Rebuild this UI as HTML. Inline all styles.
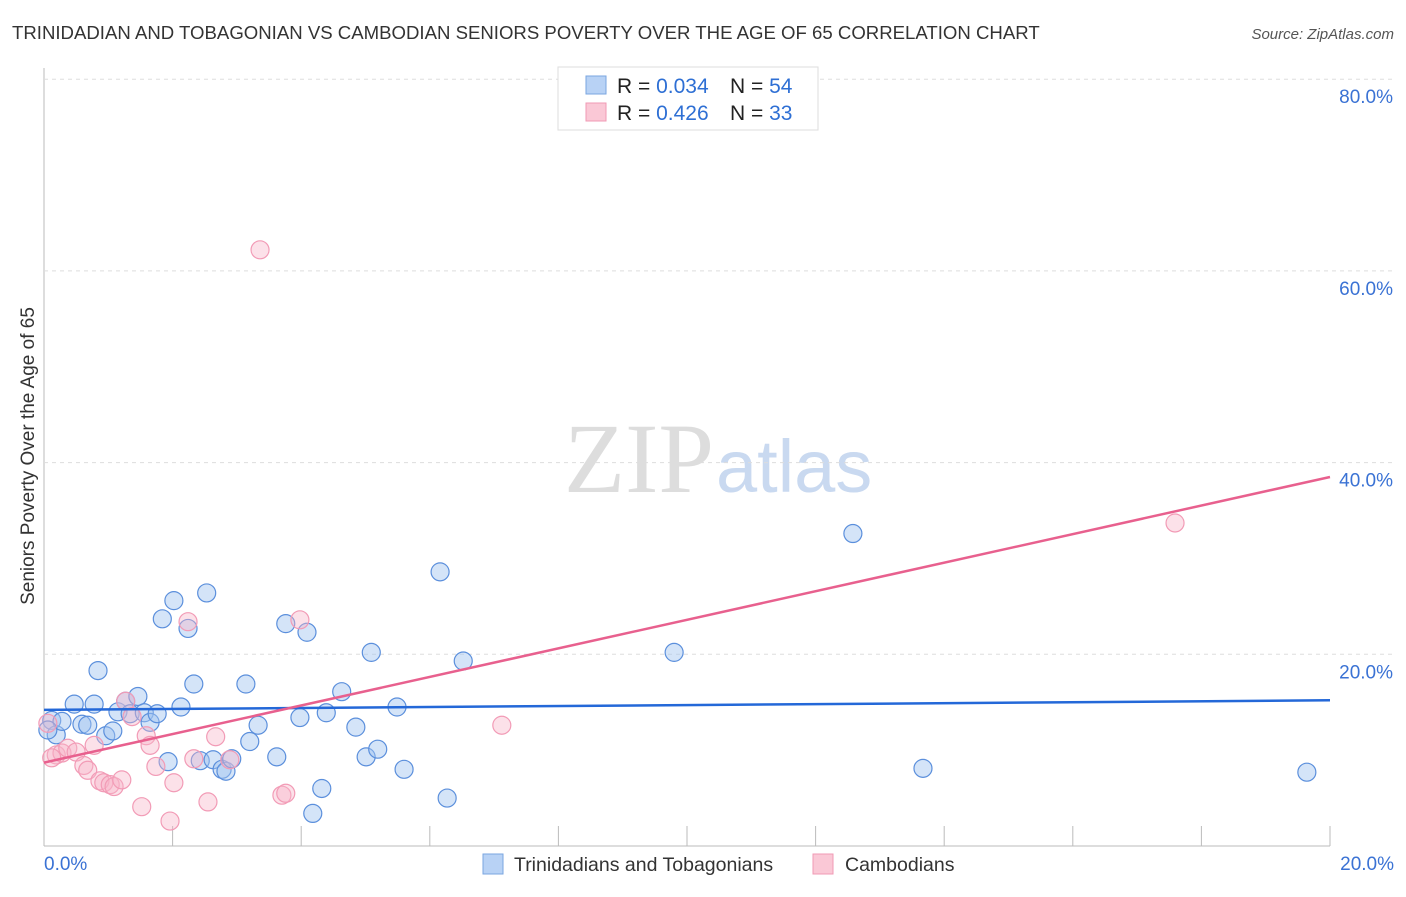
<!DOCTYPE html>
<html><head><meta charset="utf-8"><style>
body{margin:0;background:#fff;font-family:"Liberation Sans",sans-serif}
svg text{font-family:"Liberation Sans",sans-serif}
</style></head><body>
<svg id="c" width="1406" height="892" xmlns="http://www.w3.org/2000/svg">
<text x="12" y="39" font-size="18.6" fill="#333">TRINIDADIAN AND TOBAGONIAN VS CAMBODIAN SENIORS POVERTY OVER THE AGE OF 65 CORRELATION CHART</text>
<text x="1394" y="39" font-size="15" fill="#555" font-style="italic" text-anchor="end">Source: ZipAtlas.com</text>
<text x="714" y="492" font-size="100" fill="#ddd" text-anchor="end" style="font-family:'Liberation Serif',serif">ZIP</text>
<text x="716" y="492" font-size="74" fill="#c9d9f0">atlas</text>
<text transform="translate(34,456) rotate(-90)" font-size="19" fill="#333" text-anchor="middle">Seniors Poverty Over the Age of 65</text>
<g id="grid"></g><g id="pts"></g><g id="lines"></g>
<g>
<rect x="558" y="67" width="260" height="63" fill="#fff" stroke="#ddd"/>
<rect x="586" y="76" width="20" height="18" fill="#b8d2f5" stroke="#7aa6e0"/>
<rect x="586" y="103" width="20" height="18" fill="#fac8d6" stroke="#f09ab4"/>
<text x="617" y="93" font-size="21" fill="#222">R = <tspan fill="#2e6fd4">0.034</tspan></text>
<text x="730" y="93" font-size="21" fill="#222">N = <tspan fill="#2e6fd4">54</tspan></text>
<text x="617" y="120" font-size="21" fill="#222">R = <tspan fill="#2e6fd4"> 0.426</tspan></text>
<text x="730" y="120" font-size="21" fill="#222">N = <tspan fill="#2e6fd4"> 33</tspan></text>
</g>
<g>
<rect x="483" y="854" width="20" height="20" fill="#b8d2f5" stroke="#7aa6e0"/>
<text x="514" y="871" font-size="19.5" fill="#333">Trinidadians and Tobagonians</text>
<rect x="813" y="854" width="20" height="20" fill="#fac8d6" stroke="#f09ab4"/>
<text x="845" y="871" font-size="19.5" fill="#333">Cambodians</text>
</g>
</svg>
<script>
const xTicks=[0,2,4,6,8,10,12,14,16,18,20];
const yTicks=[20,40,60,80];
const blueX=[0.12,0.19,0.28,0.47,0.59,0.68,0.78,0.84,0.96,1.07,1.15,1.27,1.34,1.46,1.56,1.65,1.76,1.84,1.93,2.02,2.13,2.24,2.33,2.43,2.53,2.63,2.77,2.83,2.92,3.14,3.2,3.33,3.62,3.76,3.98,4.09,4.18,4.32,4.39,4.63,4.85,5.01,5.09,5.19,5.49,5.6,6.16,6.27,6.52,9.8,12.58,13.67,19.64,0.06];
const blueY=[13.1,11.6,13.0,14.8,12.7,12.6,14.8,18.3,11.5,12.0,14.0,15.1,13.8,15.6,13.9,12.9,13.8,23.7,8.8,25.6,14.5,22.7,16.9,8.9,26.4,9.0,8.0,7.8,9.1,16.9,10.9,12.6,9.3,23.2,13.4,22.3,3.4,6.0,13.9,16.1,12.4,9.3,20.2,10.1,14.5,8.0,28.6,5.0,19.3,20.2,32.6,8.1,7.7,12.1];
const pinkX=[0.06,0.19,0.28,0.37,0.5,0.62,0.68,0.78,0.87,0.93,1.03,1.09,1.21,1.27,1.37,1.52,1.59,1.65,1.74,1.96,2.02,2.24,2.33,2.55,2.67,2.89,3.36,3.7,3.76,3.98,7.12,17.59,0.12];
const pinkY=[12.8,9.5,9.7,10.2,9.8,8.4,7.9,10.5,6.8,6.6,6.4,6.2,6.9,15.1,13.5,4.1,11.5,10.5,8.3,2.6,6.6,23.4,9.1,4.6,11.4,9.0,62.2,5.3,5.5,23.6,12.6,33.7,9.2];
const blueLine=[14.2,15.2];
const pinkLine=[8.7,38.5];
const X=v=>44+v/20*1286, Y=v=>846-v/20*191.7;
const NS='http://www.w3.org/2000/svg';
function mk(t,a,p){const e=document.createElementNS(NS,t);for(const k in a)e.setAttribute(k,a[k]);p.appendChild(e);return e;}
const g=document.getElementById('grid');
const ax=mk('line',{x1:44,y1:68,x2:44,y2:846,stroke:'#bbb'},g);


const bx=mk('line',{x1:44,y1:846,x2:1330,y2:846,stroke:'#bbb'},g);


yTicks.forEach(v=>{
 const l=mk('line',{x1:44,y1:Y(v),x2:1394,y2:Y(v),stroke:'#ddd','stroke-dasharray':'4,4'},g);
 
 
 const t=mk('text',{x:1393,y:Y(v)+24,'font-size':19,fill:'#3a72d4','text-anchor':'end'},g);
 t.textContent=v.toFixed(1)+'%';
 
 
});
xTicks.forEach(v=>{
 const l=mk('line',{x1:X(v),y1:826,x2:X(v),y2:846,stroke:'#bbb'},g);
 
 
});
[[0,'start',44],[20,'end',1394]].forEach(([v,a,px])=>{
 const t=mk('text',{x:px,y:870,'font-size':19,fill:'#3a72d4','text-anchor':a},g);
 t.textContent=v.toFixed(1)+'%';
 
 
});
const p=document.getElementById('pts');
blueX.forEach((v,i)=>{
 const c=mk('circle',{cx:X(v),cy:Y(blueY[i]),r:9,fill:'rgba(160,195,240,0.45)',stroke:'#5b8fdc','stroke-width':1.2},p);
 
 
});
pinkX.forEach((v,i)=>{
 const c=mk('circle',{cx:X(v),cy:Y(pinkY[i]),r:9,fill:'rgba(248,180,200,0.4)',stroke:'#f29bb6','stroke-width':1.2},p);
 
 
});
const L=document.getElementById('lines');
const bl=mk('line',{x1:X(0),y1:Y(blueLine[0]),x2:X(20),y2:Y(blueLine[1]),stroke:'#2468d8','stroke-width':2.5},L);


const pl=mk('line',{x1:X(0),y1:Y(pinkLine[0]),x2:X(20),y2:Y(pinkLine[1]),stroke:'#e8608e','stroke-width':2.5},L);


</script>
</body></html>
